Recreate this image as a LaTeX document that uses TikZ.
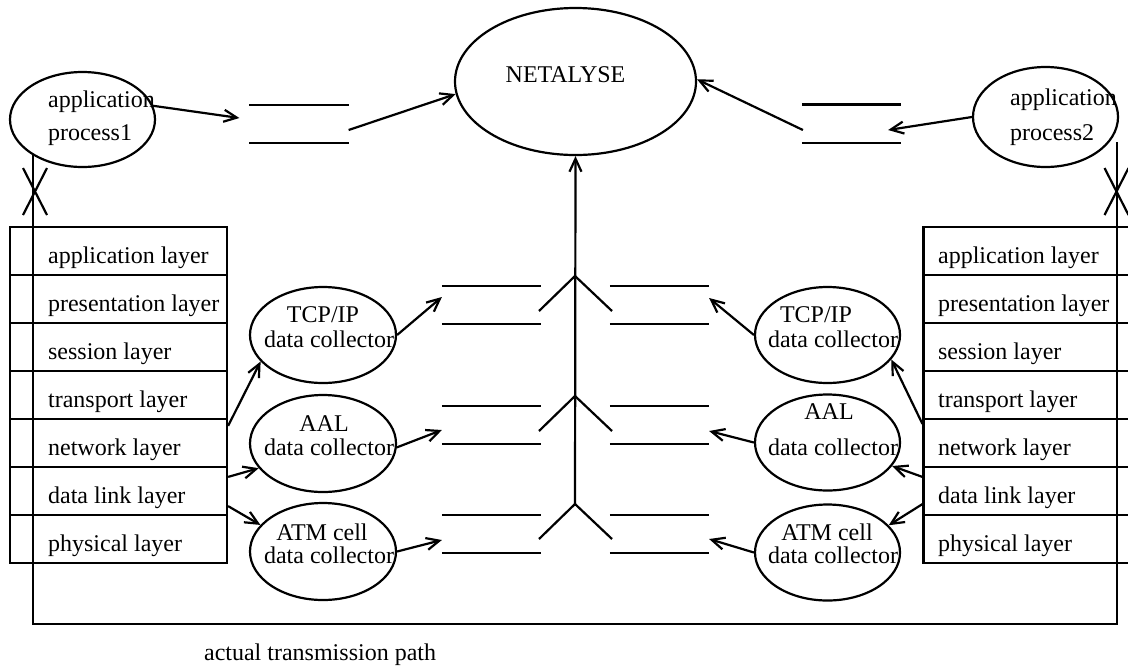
\documentclass[tikz,border=0pt]{standalone}
\usepackage{fontspec}
\setmainfont{Liberation Serif}
\usetikzlibrary{shapes.geometric,arrows.meta,calc}
\begin{document}
\begin{tikzpicture}[x=0.5pt,y=-0.5pt,line width=1.1pt,
  oval/.style 2 args={ellipse,draw,inner sep=0pt,minimum width=#1,minimum height=#2},
  txt/.style={inner sep=0pt,font=\fontsize{12}{14}\selectfont},
  layer/.style={draw,rectangle,inner sep=0pt,minimum width=108.5pt,minimum height=24pt},
  store/.style={rectangle,inner sep=0pt,minimum width=48.5pt,minimum height=18pt},
  arr/.style={-{Straight Barb[length=6.5pt,width=6pt]}}]
\useasboundingbox (0,0) rectangle (1128,665);
\clip (0,0) rectangle (1128,665);

% OSI layer stacks
\foreach \i/\yc/\t in {1/251/application layer,2/299/presentation layer,3/347/session layer,
  4/395/transport layer,5/443/network layer,6/491/data link layer,7/539/physical layer}{
  \node[layer] (L\i) at (118.5,\yc) {};
  \node[txt,anchor=base west] (L\i t) at (47,\yc+12) {\t};
  \node[layer] (R\i) at (1032,\yc) {};
  \node[txt,anchor=base west] (R\i t) at (937,\yc+12) {\t};
}

% application processes and the analyser
\node[oval={72.5pt}{47.5pt}] (app1) at (82.5,119.5) {};
\node[txt,anchor=base west] (app1a) at (47,107) {application};
\node[txt,anchor=base west] (app1b) at (47,140) {process1};
\node[oval={72.5pt}{50pt}] (app2) at (1045.5,117) {};
\node[txt,anchor=base west] (app2a) at (1009,105) {application};
\node[txt,anchor=base west] (app2b) at (1009,140) {process2};
\node[oval={120.5pt}{73.5pt}] (net) at (575.5,81.5) {};
\node[txt,anchor=base] (nett) at (565.5,82) {NETALYSE};

% data collectors
\node[oval={73pt}{48pt}] (tcpL) at (323,335) {};
\node[txt,anchor=base] (tcpLa) at (323,322) {TCP/IP};
\node[txt,anchor=base] (tcpLb) at (329,347) {data collector};
\node[oval={73pt}{48.5pt}] (aalL) at (323,443.5) {};
\node[txt,anchor=base] (aalLa) at (324,431) {AAL};
\node[txt,anchor=base] (aalLb) at (329,455) {data collector};
\node[oval={73pt}{48.5pt}] (atmL) at (323,551.5) {};
\node[txt,anchor=base] (atmLa) at (322,540) {ATM cell};
\node[txt,anchor=base] (atmLb) at (329,563) {data collector};

\node[oval={72.5pt}{48pt}] (tcpR) at (827.5,335) {};
\node[txt,anchor=base] (tcpRa) at (816,322) {TCP/IP};
\node[txt,anchor=base] (tcpRb) at (833,347) {data collector};
\node[oval={72.5pt}{48pt}] (aalR) at (827.5,442.5) {};
\node[txt,anchor=base] (aalRa) at (829,419) {AAL};
\node[txt,anchor=base] (aalRb) at (833,455) {data collector};
\node[oval={72.5pt}{48pt}] (atmR) at (827.5,552.5) {};
\node[txt,anchor=base] (atmRa) at (827,540) {ATM cell};
\node[txt,anchor=base] (atmRb) at (833,563) {data collector};

% message stores
\node[store] (qTL) at (299,124) {};
\node[store] (qTR) at (851.5,123.5) {};
\node[store] (qL1) at (491.5,305) {};
\node[store] (qL2) at (491.5,425) {};
\node[store] (qL3) at (491.5,534) {};
\node[store] (qR1) at (659.5,305) {};
\node[store] (qR2) at (659.5,425) {};
\node[store] (qR3) at (659.5,534) {};
\foreach \q in {qTL,qTR,qL1,qL2,qL3,qR1,qR2,qR3}
  \draw (\q.north west) -- (\q.north east) (\q.south west) -- (\q.south east);

% merging forks and the feed into the analyser
\coordinate (f1) at (575,276);
\coordinate (f2) at (575,396);
\coordinate (f3) at (575,504);
\foreach \f in {f1,f2,f3}
  \draw (\f) ++(-36,35) -- (\f) -- ++(37,35);
\draw[arr] (f3) -- (net.south);

% top flows
\draw[arr] (app1.11) -- ([shift={(-10,-6)}]qTL.west);
\draw[arr] ([shift={(0,6)}]qTL.east) -- (net.186);
\draw[arr] (app2.west) -- ([shift={(-13,6.5)}]qTR.east);
\draw[arr] ([shift={(1,6.5)}]qTR.west) -- (net.1);

% left side flows
\draw[arr] ([shift={(0,8)}]L5.north east) -- (tcpL.203);
\draw[arr] ([shift={(0,11)}]L6.north east) -- (aalL.201);
\draw[arr] ([shift={(0,-10)}]L6.south east) -- (atmL.157);
\draw[arr] (tcpL.east) -- ([shift={(0,-8)}]qL1.west);
\draw[arr] (aalL.357) -- ([shift={(0,5)}]qL2.west);
\draw[arr] (atmL.east) -- ([shift={(0,6)}]qL3.west);

% right side flows
\draw[arr] ([shift={(0,6)}]R5.north west) -- (tcpR.339);
\draw[arr] ([shift={(0,11)}]R6.north west) -- (aalR.340);
\draw[arr] ([shift={(0,-12)}]R6.south west) -- (atmR.24);
\draw[arr] (tcpR.west) -- ([shift={(0,-7)}]qR1.east);
\draw[arr] (aalR.west) -- ([shift={(0,6)}]qR2.east);
\draw[arr] (atmR.west) -- ([shift={(0,5)}]qR3.east);

% actual transmission path
\coordinate (tR) at (1117,624);
\coordinate (tRtop) at (1117,142);
\draw (app1.216) |- (tR) -- (tRtop);
\node[txt,anchor=base west] (path) at (203,660) {actual transmission path};

% blocked direct paths
\coordinate (xL) at (35,191.5);
\coordinate (xR) at (1116.5,191.5);
\foreach \c in {xL,xR}
  \draw (\c) ++(-12,-23.5) -- ++(24,47) (\c) ++(12,-23.5) -- ++(-24,47);
\end{tikzpicture}
\end{document}
